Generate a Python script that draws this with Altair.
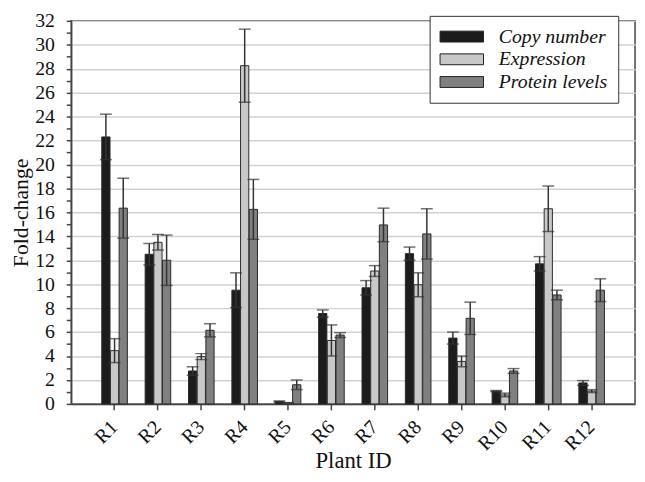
import altair as alt
import pandas as pd

plants = ["R1", "R2", "R3", "R4", "R5", "R6", "R7", "R8", "R9", "R10", "R11", "R12"]
series = ["Copy number", "Expression", "Protein levels"]

copy_number = [22.3, 12.5, 2.75, 9.5, 0.2, 7.55, 9.7, 12.55, 5.5, 1.07, 11.7, 1.75]
copy_err = [1.9, 0.9, 0.35, 1.45, 0.05, 0.3, 0.6, 0.55, 0.5, 0.05, 0.6, 0.2]
expression = [4.45, 13.5, 3.95, 28.25, 0.08, 5.3, 11.1, 9.95, 3.55, 0.75, 16.3, 1.07]
expression_err = [1.0, 0.65, 0.25, 3.05, 0.03, 1.3, 0.45, 1.0, 0.45, 0.15, 1.9, 0.12]
protein = [16.35, 12.0, 6.15, 16.25, 1.6, 5.75, 14.95, 14.2, 7.15, 2.75, 9.1, 9.5]
protein_err = [2.5, 2.1, 0.55, 2.5, 0.4, 0.2, 1.4, 2.1, 1.35, 0.2, 0.4, 0.95]

colors = ["#1c1c1c", "#c8c8c8", "#808080"]
SERIF = "Liberation Serif, Times New Roman, Times, DejaVu Serif, serif"

rows = []
for vals, errs, name in [(copy_number, copy_err, series[0]),
                         (expression, expression_err, series[1]),
                         (protein, protein_err, series[2])]:
    for p, v, e in zip(plants, vals, errs):
        rows.append({"plant": p, "series": name, "value": v,
                     "lo": max(v - e, 0), "hi": v + e})
df = pd.DataFrame(rows)

x_axis = alt.Axis(title="Plant ID", labelAngle=-45, labelAlign="right",
                  labelBaseline="middle", labelPadding=14,
                  labelFont=SERIF, labelFontSize=20,
                  labelColor="#111", titleFont=SERIF,
                  titleFontSize=23, titleFontWeight="normal",
                  titleColor="#111", titleY=57, titleBaseline="middle",
                  tickSize=6, tickColor="#444", tickWidth=1.5,
                  domainColor="#444", domainWidth=1.5, grid=False)
x_scale = alt.Scale(paddingInner=0.41, paddingOuter=0.705)
xo_scale = alt.Scale(paddingInner=0.05)

y_scale = alt.Scale(domain=[0, 32], nice=False)
y_axis = alt.Axis(title="Fold-change", values=list(range(0, 33)),
                  labelExpr="datum.value % 2 === 0 ? datum.label : ''",
                  labelOverlap=False, labelBound=False, labelFlush=False,
                  labelFont=SERIF, labelFontSize=20, labelColor="#111",
                  labelPadding=12, tickSize=5, tickColor="#444", tickWidth=1.5,
                  domainColor="#444", domainWidth=1.5,
                  grid=True, gridColor="#d2d2d2", gridWidth=1.5,
                  gridOpacity={"condition": {"test": "datum.value % 2 === 1", "value": 0}, "value": 1},
                  titleFont=SERIF, titleFontSize=22,
                  titleFontWeight="normal", titleColor="#111",
                  titleX=-51, titleBaseline="middle")


def xe():
    return alt.X("plant:N", sort=plants, scale=x_scale, axis=x_axis)


def xoe():
    return alt.XOffset("series:N", sort=series, scale=xo_scale)


bars = alt.Chart(df).mark_bar(stroke="#2a2a2a", strokeWidth=1).encode(
    x=xe(),
    xOffset=xoe(),
    y=alt.Y("value:Q", scale=y_scale, axis=y_axis),
    color=alt.Color("series:N", sort=series,
                    scale=alt.Scale(domain=series, range=colors),
                    legend=alt.Legend(orient="none", legendX=363, legendY=-5,
                                      title=None,
                                      symbolType="M-1.9,-1L6.1,-1L6.1,1L-1.9,1Z",
                                      symbolSize=121, symbolStrokeColor="#222",
                                      symbolStrokeWidth=1, symbolOpacity=1,
                                      labelFont=SERIF, labelFontSize=20,
                                      labelFontStyle="italic", labelColor="#111",
                                      labelOffset=39, rowPadding=3,
                                      strokeColor="#333", fillColor="white",
                                      padding=11)),
)

rules = alt.Chart(df).mark_rule(color="#333", strokeWidth=1.5).encode(
    x=xe(),
    xOffset=xoe(),
    y=alt.Y("lo:Q", scale=y_scale, axis=y_axis),
    y2="hi:Q",
)

caps_hi = alt.Chart(df).mark_tick(color="#333", thickness=1.5, size=12).encode(
    x=xe(),
    xOffset=xoe(),
    y=alt.Y("hi:Q", scale=y_scale, axis=y_axis),
)
caps_lo = alt.Chart(df).mark_tick(color="#333", thickness=1.5, size=12).encode(
    x=xe(),
    xOffset=xoe(),
    y=alt.Y("lo:Q", scale=y_scale, axis=y_axis),
)

chart = alt.layer(bars, rules, caps_hi, caps_lo).properties(
    width=571, height=388,
    autosize=alt.AutoSizeParams(type="none"),
    padding={"left": 64, "top": 10, "right": 2, "bottom": 66},
    background="white",
).configure_view(stroke="#444", strokeWidth=1.5)

chart.save("out.html", embed_options={"renderer": "svg", "actions": False})
